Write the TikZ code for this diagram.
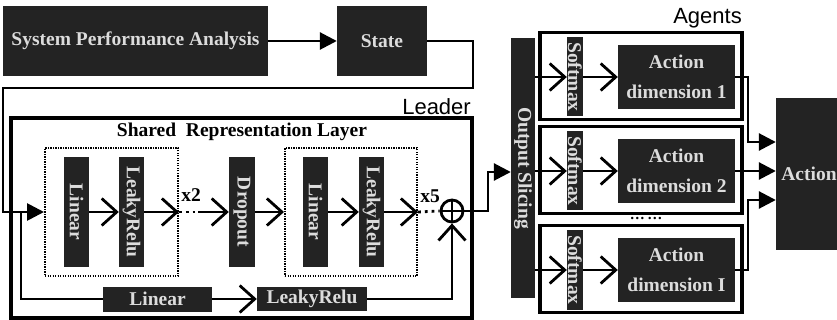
\documentclass[tikz,border=0pt]{standalone}
\usepackage{fontspec}
\setmainfont{Liberation Serif}
\newfontfamily\labelfont{Liberation Sans}
\definecolor{BlkDark}{HTML}{232323}
\definecolor{BlkText}{HTML}{DCDCDC}
\usetikzlibrary{positioning,arrows.meta}

\begin{document}
\begin{tikzpicture}[x=1pt, y=-1pt,
      blk/.style={rectangle, fill=BlkDark, text=BlkText, inner sep=0pt,
        font=\bfseries\fontsize{19.5}{30}\selectfont, align=center},
      vblk/.style={blk, minimum width=25pt, minimum height=110pt},
      grp/.style={rectangle, draw, line width=3.2pt, inner sep=0pt},
      dotbox/.style={rectangle, draw, line width=2pt, dash pattern=on 1.2pt off 1.3pt,
        minimum width=133pt, minimum height=128pt},
      ln/.style={line width=2.8pt},
      tri/.style={ln, -{Triangle[length=17pt,width=17pt]}},
      opn/.style={ln, -{Straight Barb[length=15pt,width=27pt]}},
      dots/.style={line width=2.8pt, dash pattern=on 2.8pt off 4pt},
      tag/.style={font=\labelfont\fontsize{22}{22}\selectfont, inner sep=0pt},
      lbl/.style={font=\bfseries\fontsize{19.5}{22}\selectfont, inner sep=0pt}]
  \useasboundingbox (0,0) rectangle (837,320);

  % input
  \node[blk, minimum width=265pt, minimum height=70pt] (spa) at (135.5,41) {System Performance Analysis};
  \node[blk, minimum width=90pt, minimum height=70pt] (state) at (382,41) {State};
  \draw[tri] (spa) -- (state);

  % leader
  \node[grp, minimum width=461pt, minimum height=200pt] (leader) at (241.5,218) {};
  \node[tag, anchor=base east] (leadtag) at (471,115) {Leader};
  \node[lbl] (shared) at (242,132) {Shared~~Representation Layer};
  \node[dotbox] (box1) at (111.5,212) {};
  \node[dotbox, minimum width=132pt] (box2) at (351,212) {};
  \node[vblk] (lin1) at (76.5,212) {\rotatebox{-90}{Linear}};
  \node[vblk] (lrelu1) at (131.5,212) {\rotatebox{-90}{LeakyRelu}};
  \node[vblk, minimum width=26pt] (drop) at (242,212) {\rotatebox{-90}{Dropout}};
  \node[vblk] (lin2) at (315.5,212) {\rotatebox{-90}{Linear}};
  \node[vblk] (lrelu2) at (371.5,212) {\rotatebox{-90}{LeakyRelu}};
  \node[draw, circle, ln, minimum size=22pt, inner sep=0pt] (plus) at (452,211) {};
  \draw[ln] (plus.north) -- (plus.south) (plus.west) -- (plus.east);
  \node[lbl] (rep2) at (191,195) {x2};
  \node[lbl] (rep5) at (430,196) {x5};
  \node[blk, minimum width=109pt, minimum height=25pt] (blin) at (157.5,299) {Linear};
  \node[blk, minimum width=110pt, minimum height=24pt] (brelu) at (312,299) {LeakyRelu};

  \coordinate (turn) at (473,88);
  \coordinate (inl) at (3,212);
  \coordinate (br) at (21,212);
  \coordinate (d1) at (198,212);
  \coordinate (up) at (488,172);
  \draw[tri] (state.east) -| (turn) -| (inl) -- (box1.west);
  \draw[opn] (lin1) -- (lrelu1);
  \draw[opn] (lrelu1) -- (box1.east);
  \draw[dots] (box1.east) -- (d1);
  \draw[opn] (d1) -- (drop);
  \draw[opn] (drop) -- (box2.west);
  \draw[opn] (lin2) -- (lrelu2);
  \draw[opn] (lrelu2) -- (box2.east);
  \draw[dots] (box2.east) -- (plus.west);
  \draw[ln] (br) |- (blin.west);
  \draw[opn] (blin) -- (brelu);
  \draw[opn] (brelu) -| (plus.south);

  % slicing and agents
  \node[blk, minimum width=24pt, minimum height=260pt] (outslc) at (523,168) {\rotatebox{-90}{Output Slicing}};
  \draw[tri] (plus.east) -| (up) -- (up -| outslc.west);
  \node[tag, anchor=base east] (agtag) at (742,24) {Agents};
  \foreach \i/\y/\d in {1/77/1, 2/171/2, 3/270/I}{
    \node[grp, minimum width=202pt, minimum height=87pt] (ag\i) at (641,\y-1) {};
    \node[blk, minimum width=16pt, minimum height=79pt] (sm\i) at (575,\y) {\rotatebox{-90}{Softmax}};
    \node[blk, minimum width=117pt, minimum height=64pt] (ad\i) at (676.5,\y) {Action\\dimension \d};
    \draw[opn] (sm\i -| outslc.east) -- (sm\i);
    \draw[opn] (sm\i) -- (ad\i);
  }
  \node[font=\bfseries\fontsize{15}{15}\selectfont, inner sep=0pt] (more) at (646,218) {…\,…};

  % output
  \node[blk, minimum width=66pt, minimum height=152pt] (act) at (809,174) {Action};
  \coordinate (a1) at (748,142);
  \coordinate (a3) at (748,200);
  \draw[tri] (ad1.east) -| (a1) -- (a1 -| act.west);
  \draw[tri] (ad2) -- (ad2 -| act.west);
  \draw[tri] (ad3.east) -| (a3) -- (a3 -| act.west);
\end{tikzpicture}
\end{document}
